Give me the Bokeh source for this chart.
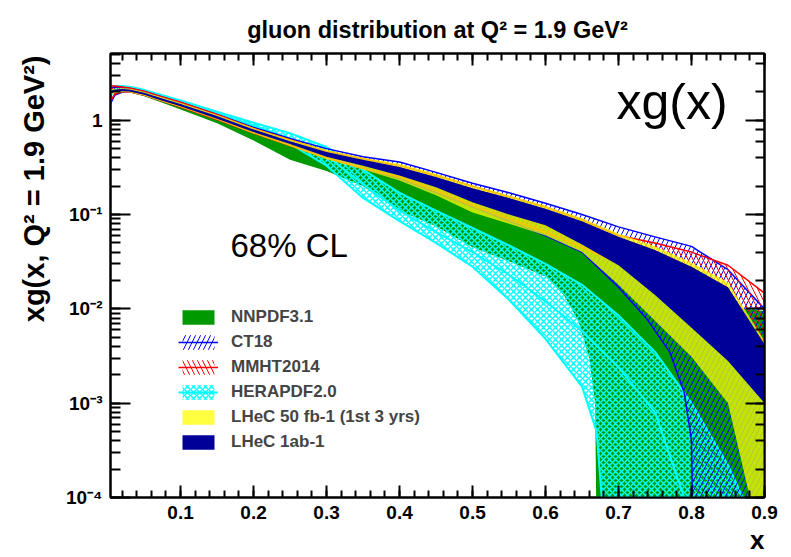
import math
from bokeh.plotting import figure
from bokeh.models import (Label, Legend, LegendItem, FixedTicker, LinearAxis, LogAxis,
                          CustomJSTickFormatter, Range1d, Title)
from bokeh.embed import file_html
from bokeh.resources import INLINE

# ---------------- data ----------------
X_TICKS = [0.1, 0.2, 0.3, 0.4, 0.5, 0.6, 0.7, 0.8, 0.9]

GRID = [0.004, 0.01, 0.02, 0.03, 0.05, 0.075, 0.1, 0.15, 0.2, 0.25, 0.3, 0.35,
        0.4, 0.45, 0.5, 0.55, 0.6, 0.65, 0.7, 0.75, 0.8, 0.85, 0.9]

# NNPDF3.1
NN_UP_X = GRID
NN_UP = [2.15, 2.18, 2.16, 2.12, 1.95, 1.70, 1.48, 1.10, 0.78, 0.58, 0.44, 0.35,
         0.28, 0.21, 0.15, 0.11, 0.08, 0.058, 0.040, 0.028, 0.018, 0.0105, 0.0095]
NN_LO_X = [0.004, 0.01, 0.02, 0.03, 0.05, 0.075, 0.1, 0.15, 0.2, 0.25, 0.3, 0.35,
           0.4, 0.45, 0.5, 0.55, 0.6, 0.625, 0.645, 0.66, 0.668, 0.672, 0.9]
NN_LO = [1.95, 2.0, 2.0, 1.98, 1.80, 1.53, 1.30, 0.93, 0.61, 0.38, 0.29, 0.20,
         0.11, 0.075, 0.045, 0.032, 0.022, 0.014, 0.0075, 0.003, 0.001, 1e-6, 1e-6]

# CT18
CT_UP_X = GRID
CT_UP = [2.20, 2.25, 2.22, 2.18, 2.02, 1.76, 1.54, 1.15, 0.84, 0.64, 0.50, 0.41,
         0.36, 0.28, 0.215, 0.17, 0.132, 0.10, 0.074, 0.058, 0.046, 0.026, 0.010]
CT_LO_X = [0.004, 0.01, 0.02, 0.03, 0.05, 0.075, 0.1, 0.15, 0.2, 0.25, 0.3, 0.35,
           0.4, 0.45, 0.5, 0.55, 0.6, 0.65, 0.7, 0.74, 0.77, 0.79, 0.8, 0.805, 0.9]
CT_LO = [1.50, 1.85, 1.98, 2.00, 1.85, 1.60, 1.40, 1.03, 0.74, 0.55, 0.40, 0.31,
         0.24, 0.17, 0.12, 0.085, 0.06, 0.040, 0.017, 0.0076, 0.0035, 0.0013, 0.0004, 1e-6, 1e-6]

# MMHT2014
MM_X = GRID
MM_UP = [2.30, 2.30, 2.25, 2.20, 2.03, 1.77, 1.55, 1.15, 0.82, 0.62, 0.47, 0.39,
         0.33, 0.26, 0.20, 0.155, 0.12, 0.088, 0.060, 0.050, 0.040, 0.029, 0.0147]
MM_LO = [1.60, 1.90, 2.00, 2.00, 1.85, 1.60, 1.38, 1.02, 0.73, 0.54, 0.40, 0.31,
         0.25, 0.18, 0.125, 0.09, 0.065, 0.045, 0.030, 0.021, 0.015, 0.009, 0.0045]

# HERAPDF2.0
HE_UP_X = [0.004, 0.01, 0.02, 0.03, 0.05, 0.075, 0.1, 0.15, 0.2, 0.25, 0.3, 0.35,
           0.4, 0.45, 0.5, 0.55, 0.6, 0.65, 0.7, 0.75, 0.8, 0.85, 0.87, 0.9]
HE_UP = [2.25, 2.30, 2.30, 2.27, 2.10, 1.84, 1.62, 1.23, 0.94, 0.73, 0.52, 0.30,
         0.17, 0.11, 0.072, 0.047, 0.030, 0.018, 0.0085, 0.0035, 0.0010, 0.00022, 0.0001, 1e-6]
HE_LO_X = [0.004, 0.01, 0.02, 0.03, 0.05, 0.075, 0.1, 0.15, 0.2, 0.25, 0.3, 0.35,
           0.4, 0.45, 0.5, 0.55, 0.6, 0.65, 0.67, 0.677, 0.68, 0.9]
HE_LO = [1.85, 2.00, 2.05, 2.05, 1.92, 1.68, 1.47, 1.10, 0.82, 0.56, 0.33, 0.15,
         0.085, 0.050, 0.028, 0.0125, 0.0048, 0.0015, 0.0005, 0.0001, 1e-6, 1e-6]
HE_MID_X = [0.004, 0.01, 0.02, 0.03, 0.05, 0.075, 0.1, 0.15, 0.2, 0.25, 0.3, 0.35,
            0.4, 0.45, 0.5, 0.55, 0.6, 0.65, 0.7, 0.75, 0.79, 0.8]
HE_MID = [2.05, 2.15, 2.17, 2.15, 2.00, 1.76, 1.55, 1.17, 0.88, 0.64, 0.42, 0.21,
          0.11, 0.065, 0.040, 0.023, 0.012, 0.0058, 0.0024, 0.0008, 0.0001, 1e-6]

# LHeC 50 fb-1 (1st 3 yrs)
LY_UP_X = GRID
LY_UP = [2.10, 2.17, 2.19, 2.17, 2.01, 1.75, 1.53, 1.14, 0.83, 0.63, 0.485, 0.40,
         0.345, 0.27, 0.205, 0.16, 0.124, 0.092, 0.063, 0.046, 0.031, 0.019, 0.0046]
LY_LO_X = [0.004, 0.01, 0.02, 0.03, 0.05, 0.075, 0.1, 0.15, 0.2, 0.25, 0.3, 0.35,
           0.4, 0.45, 0.5, 0.55, 0.6, 0.65, 0.7, 0.75, 0.8, 0.85, 0.88, 0.9]
LY_LO = [1.86, 1.95, 1.98, 1.97, 1.82, 1.57, 1.37, 1.01, 0.72, 0.53, 0.385, 0.30,
         0.23, 0.16, 0.105, 0.08, 0.060, 0.040, 0.018, 0.0075, 0.0031, 0.001, 0.0001, 1e-6]

# LHeC 1ab-1
LN_X = GRID
LN_UP = [2.04, 2.12, 2.14, 2.12, 1.96, 1.70, 1.49, 1.11, 0.80, 0.60, 0.46, 0.38,
         0.32, 0.25, 0.19, 0.15, 0.115, 0.085, 0.058, 0.042, 0.028, 0.017, 0.0042]
LN_LO = [1.92, 2.00, 2.03, 2.02, 1.86, 1.61, 1.41, 1.04, 0.75, 0.56, 0.41, 0.33,
         0.26, 0.195, 0.135, 0.10, 0.077, 0.048, 0.029, 0.014, 0.0063, 0.0028, 0.001]

LABELS = ["NNPDF3.1", "CT18", "MMHT2014", "HERAPDF2.0",
          "LHeC 50 fb-1 (1st 3 yrs)", "LHeC 1ab-1"]

# ---------------- figure ----------------
W, H = 790, 556
FL, FT, FR, FB = 110, 53, 764, 497          # frame edges on the page
FONT = "Liberation Sans"

p = figure(width=W, height=H, x_range=Range1d(0.004, 0.9), y_range=Range1d(1e-4, 5.1),
           y_axis_type="log", output_backend="svg", toolbar_location=None,
           min_border_left=FL, min_border_right=W - FR, min_border_top=FT,
           min_border_bottom=H - FB)
p.grid.visible = False
p.outline_line_color = "black"
p.outline_line_width = 2
p.background_fill_color = "white"
p.border_fill_color = "white"

p.title.text = "gluon distribution at Q\u00b2 = 1.9 GeV\u00b2"
p.title.align = "center"
p.title.text_font = FONT
p.title.text_font_style = "bold"
p.title.text_font_size = "23.5px"
p.title.text_color = "black"
p.title.standoff = 22


def band(xu, yu, xl, yl, **kw):
    return p.patch(x=list(xu) + list(xl)[::-1], y=list(yu) + list(yl)[::-1],
                   line_color=None, **kw)


r_nn = band(NN_UP_X, NN_UP, NN_LO_X, NN_LO, fill_color="#009900")

r_he = band(HE_UP_X, HE_UP, HE_LO_X, HE_LO, fill_color=None, hatch_pattern="x",
            hatch_color="#00ffff", hatch_scale=6, hatch_weight=1.5)
p.line(HE_UP_X, HE_UP, line_color="#00ffff", line_width=2)
p.line(HE_LO_X, HE_LO, line_color="#00ffff", line_width=2)
l_he = p.line(HE_MID_X, HE_MID, line_color="#00ffff", line_width=2)

r_ct = band(CT_UP_X, CT_UP, CT_LO_X, CT_LO, fill_color=None, hatch_pattern="/",
            hatch_color="#0000ff", hatch_scale=10, hatch_weight=1)
l_ct = p.line(CT_UP_X, CT_UP, line_color="#0000ff", line_width=1.5)
p.line(CT_LO_X, CT_LO, line_color="#0000ff", line_width=1.5)

r_mm = band(MM_X, MM_UP, MM_X, MM_LO, fill_color=None, hatch_pattern="\\",
            hatch_color="#ff0000", hatch_scale=10, hatch_weight=1)
l_mm = p.line(MM_X, MM_UP, line_color="#ff0000", line_width=1.5)
p.line(MM_X, MM_LO, line_color="#ff0000", line_width=1.5)

r_ly = band(LY_UP_X, LY_UP, LY_LO_X, LY_LO, fill_color="#ffff00", fill_alpha=0.75)
r_ln = band(LN_X, LN_UP, LN_X, LN_LO, fill_color="#000099")

# ---------------- axes ----------------
blank = CustomJSTickFormatter(code="return '';")
sup = CustomJSTickFormatter(code="""
const e = Math.round(Math.log10(tick));
if (e === 0) { return "1"; }
const m = {"-": "\u207b", "0": "\u2070", "1": "\u00b9", "2": "\u00b2", "3": "\u00b3",
           "4": "\u2074", "5": "\u2075", "6": "\u2076", "7": "\u2077", "8": "\u2078", "9": "\u2079"};
return "10" + String(e).split("").map(c => m[c]).join("");
""")
xt = FixedTicker(ticks=X_TICKS, minor_ticks=[round(0.02 * k, 2) for k in range(1, 46)])


def style(ax, maj, mnr, size="19px"):
    ax.major_tick_in = maj
    ax.major_tick_out = 0
    ax.minor_tick_in = mnr
    ax.minor_tick_out = 0
    ax.major_tick_line_width = 2
    ax.minor_tick_line_width = 2
    ax.axis_line_width = 2
    ax.major_label_text_font = FONT
    ax.major_label_text_font_style = "bold"
    ax.major_label_text_font_size = size
    ax.major_label_text_color = "black"


xb = p.xaxis[0]
xb.ticker = xt
style(xb, 12, 7)
xb.major_label_standoff = 8

yl = p.yaxis[0]
yl.formatter = sup
style(yl, 20, 10, "19px")
yl.major_label_standoff = 8

xa = LinearAxis(ticker=xt, formatter=blank)
style(xa, 12, 7, "1px")
xa.major_label_standoff = 0
p.add_layout(xa, "above")

yr = LogAxis(formatter=blank)
style(yr, 19, 9, "1px")
yr.major_label_standoff = 0
p.add_layout(yr, "right")

p.add_layout(Title(text="xg(x, Q\u00b2 = 1.9 GeV\u00b2)", align="right", text_font=FONT,
                   text_font_style="bold", text_font_size="29px", text_color="black",
                   standoff=26, offset=2), "left")
p.add_layout(Title(text="x", align="right", text_font=FONT, text_font_style="bold",
                   text_font_size="26px", text_color="black", standoff=2), "below")


# ---------------- texts inside the frame ----------------
def lab(text, px, py, size, bold=True, align="left"):
    p.add_layout(Label(x=px - FL, y=FB - py, x_units="screen", y_units="screen",
                       text=text, text_font=FONT,
                       text_font_style="bold" if bold else "normal",
                       text_font_size=f"{size}px", text_align=align,
                       text_baseline="alphabetic", text_color="black"))


lab("xg(x)", 616, 101, 50, bold=False)
lab("68% CL", 230, 245, 33, bold=False)

# ---------------- legend ----------------
items = [
    LegendItem(label=LABELS[0], renderers=[r_nn]),
    LegendItem(label=LABELS[1], renderers=[r_ct, l_ct]),
    LegendItem(label=LABELS[2], renderers=[r_mm, l_mm]),
    LegendItem(label=LABELS[3], renderers=[r_he, l_he]),
    LegendItem(label=LABELS[4], renderers=[r_ly]),
    LegendItem(label=LABELS[5], renderers=[r_ln]),
]
leg = Legend(items=items, location=(178 - FL, FB - 452), glyph_width=40, glyph_height=18,
             label_text_font=FONT, label_text_font_style="bold", label_text_font_size="17px",
             label_standoff=13, spacing=5, padding=0, margin=0, label_height=18,
             border_line_alpha=0, background_fill_alpha=0)
p.add_layout(leg)

with open("out.html", "w", encoding="utf-8") as f:
    f.write(file_html(p, INLINE))
